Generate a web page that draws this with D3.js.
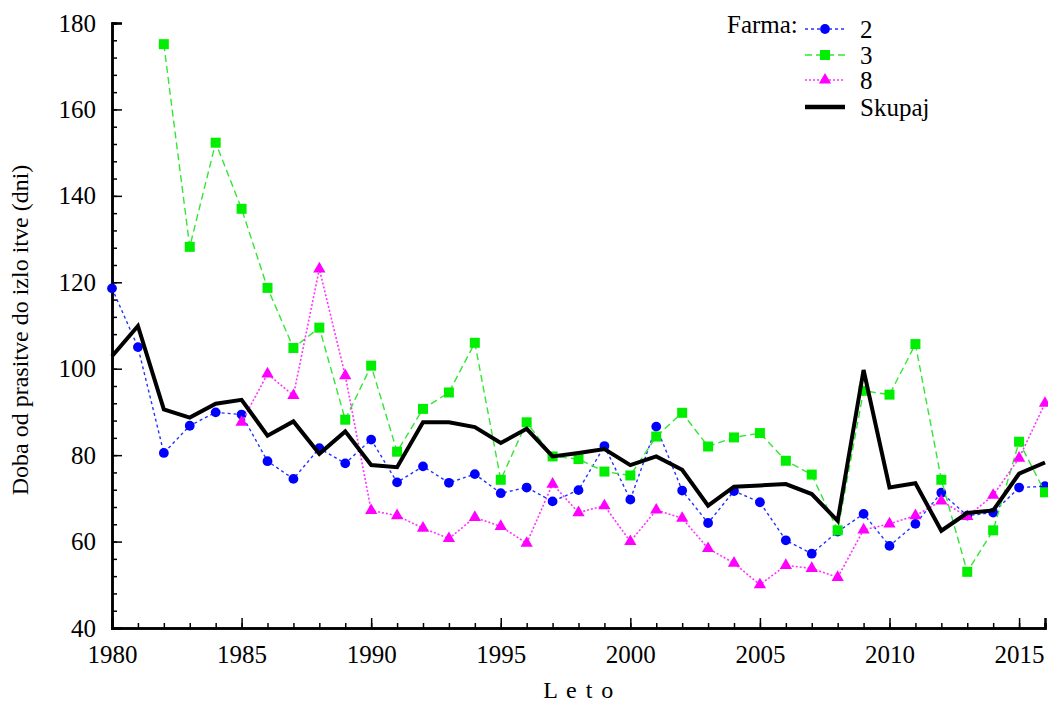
<!DOCTYPE html>
<html>
<head>
<meta charset="utf-8">
<script src="https://cdn.jsdelivr.net/npm/d3@7"></script>
<style>
  body { margin: 0; background: #fff; }
  svg text { font-family: "Liberation Serif", "DejaVu Serif", serif !important; fill: #000; }
</style>
</head>
<body>
<svg id="chart" width="1048" height="704"></svg>
<script>
// years on the x axis
var years = d3.range(1980, 2017);

// Farma 2
var farm2 = [118.6, 105.0, 80.5, 86.8, 89.9, 89.4, 78.6, 74.5, 81.6, 78.1, 83.6, 73.7,
  77.4, 73.6, 75.6, 71.2, 72.5, 69.3, 71.9, 82.1, 69.7, 86.6, 71.8, 64.3,
  71.7, 69.1, 60.3, 57.2, 62.3, 66.4, 59.0, 64.1, 71.3, 66.0, 66.7, 72.5, 72.8];
// Farma 3 (no data before 1982)
var farm3 = [null, null, 175.1, 128.2, 152.3, 137.0, 118.7, 104.8, 109.5, 88.2, 100.7, 80.8,
  90.7, 94.5, 106.0, 74.3, 87.6, 79.7, 79.1, 76.2, 75.3, 84.3, 89.8, 82.0,
  84.1, 85.1, 78.7, 75.5, 62.6, 94.9, 94.0, 105.7, 74.3, 53.0, 62.6, 83.1, 71.4];
// Farma 8 (no data before 1985)
var farm8 = [null, null, null, null, null, 87.6, 98.8, 93.8, 123.1, 98.4, 67.2, 66.0,
  63.1, 60.7, 65.6, 63.5, 59.6, 73.3, 66.7, 68.3, 60.0, 67.3, 65.4, 58.4,
  55.0, 50.0, 54.5, 53.8, 51.7, 62.7, 64.1, 66.0, 69.4, 65.8, 70.7, 79.3, 92.0];
// Skupaj (all farms)
var total = [102.9, 109.9, 90.6, 88.7, 91.9, 92.8, 84.5, 87.8, 80.3, 85.5, 77.7, 77.2,
  87.6, 87.6, 86.5, 82.8, 86.1, 79.7, 80.5, 81.4, 77.7, 79.7, 76.6, 68.3,
  72.7, 73.0, 73.3, 71.0, 64.8, 99.7, 72.5, 73.5, 62.5, 66.6, 67.2, 75.7, 78.3];

var yTicks = [40, 60, 80, 100, 120, 140, 160, 180];
var xTicks = [1980, 1985, 1990, 1995, 2000, 2005, 2010, 2015];

var svg = d3.select("#chart");
var margin = { left: 112, right: 3, top: 23, bottom: 76 };
var width = 1048 - margin.left - margin.right;
var height = 704 - margin.top - margin.bottom;

var x = d3.scaleLinear().domain([1980, 2016]).range([0, width]);
var y = d3.scaleLinear().domain([40, 180]).range([height, 0]);

var g = svg.append("g").attr("transform", `translate(${margin.left},${margin.top})`);

// axes: major + minor ticks pointing inward
var xMinor = g.append("g").attr("transform", `translate(0,${height})`)
  .call(d3.axisBottom(x).tickValues(years).tickSize(-5).tickFormat(""));
var xMajor = g.append("g").attr("transform", `translate(0,${height})`)
  .call(d3.axisBottom(x).tickValues(xTicks).tickSize(-10).tickPadding(17).tickFormat(d3.format("d")));
var yMinor = g.append("g")
  .call(d3.axisLeft(y).tickValues(d3.range(40, 181, 4)).tickSize(-5).tickFormat(""));
var yMajor = g.append("g")
  .call(d3.axisLeft(y).tickValues(yTicks).tickSize(-10).tickPadding(16));

[xMinor, xMajor, yMinor, yMajor].forEach(function (a) {
  a.attr("font-family", "Liberation Serif").attr("font-size", 25);
  a.selectAll("path.domain").attr("stroke", "#000").attr("stroke-width", 2.5);
  a.selectAll(".tick line").attr("stroke", "#000").attr("stroke-width", 1.5);
  a.selectAll(".tick text").attr("fill", "#000");
});
xMajor.selectAll(".tick text").attr("dy", "0.7em");

// axis titles
svg.append("text")
  .attr("transform", "translate(28,330) rotate(-90)")
  .attr("text-anchor", "middle")
  .style("font-size", "24px")
  .text("Doba od prasitve do izlo itve (dni)");
svg.append("text")
  .attr("x", 579).attr("y", 698)
  .attr("text-anchor", "middle")
  .style("font-size", "24px")
  .style("letter-spacing", "1.5px")
  .text("L e t o");

var series = [
  { name: "2", values: farm2, color: "#0000ff", lineColor: "#2233ff", dash: "3,3", width: 1.4, shape: "circle" },
  { name: "3", values: farm3, color: "#00ee00", lineColor: "#33e633", dash: "7,4", width: 1.4, shape: "square" },
  { name: "8", values: farm8, color: "#ff00ff", lineColor: "#ff33ff", dash: "2,2", width: 1.6, shape: "triangle" }
];

var line = d3.line()
  .defined(function (d) { return d.v != null; })
  .x(function (d) { return x(d.year); })
  .y(function (d) { return y(d.v); });

function pairs(values) {
  return years.map(function (yr, i) { return { year: yr, v: values[i] }; });
}

var symbols = {
  circle: d3.symbol().type(d3.symbolCircle).size(75),
  square: d3.symbol().type(d3.symbolSquare).size(100),
  triangle: d3.symbol().type(d3.symbolTriangle).size(65)
};

series.forEach(function (s) {
  var data = pairs(s.values);
  g.append("path")
    .datum(data)
    .attr("fill", "none")
    .attr("stroke", s.lineColor)
    .attr("stroke-width", s.width)
    .attr("stroke-dasharray", s.dash)
    .attr("d", line);
  g.selectAll(null)
    .data(data.filter(function (d) { return d.v != null; }))
    .enter().append("path")
    .attr("transform", function (d) { return `translate(${x(d.year)},${y(d.v)})`; })
    .attr("d", symbols[s.shape])
    .attr("fill", s.color);
});

// total line on top
g.append("path")
  .datum(pairs(total))
  .attr("fill", "none")
  .attr("stroke", "#000")
  .attr("stroke-width", 4)
  .attr("stroke-linejoin", "miter")
  .attr("d", line);

// legend
var legend = svg.append("g");
legend.append("text")
  .attr("x", 727).attr("y", 33)
  .style("font-size", "25px")
  .text("Farma:");

var legendRows = series.concat([{ name: "Skupaj", lineColor: "#000", dash: null, width: 4.5 }]);
var rowY = [29, 55, 80, 107];
legendRows.forEach(function (s, i) {
  var ly = rowY[i];
  legend.append("line")
    .attr("x1", 805).attr("x2", 845).attr("y1", ly).attr("y2", ly)
    .attr("stroke", s.lineColor)
    .attr("stroke-width", s.width)
    .attr("stroke-dasharray", s.dash);
  if (s.shape) {
    legend.append("path")
      .attr("transform", `translate(825,${ly})`)
      .attr("d", symbols[s.shape])
      .attr("fill", s.color);
  }
  legend.append("text")
    .attr("x", 860).attr("y", ly + 9)
    .style("font-size", "25px")
    .text(s.name);
});
</script>
</body>
</html>
